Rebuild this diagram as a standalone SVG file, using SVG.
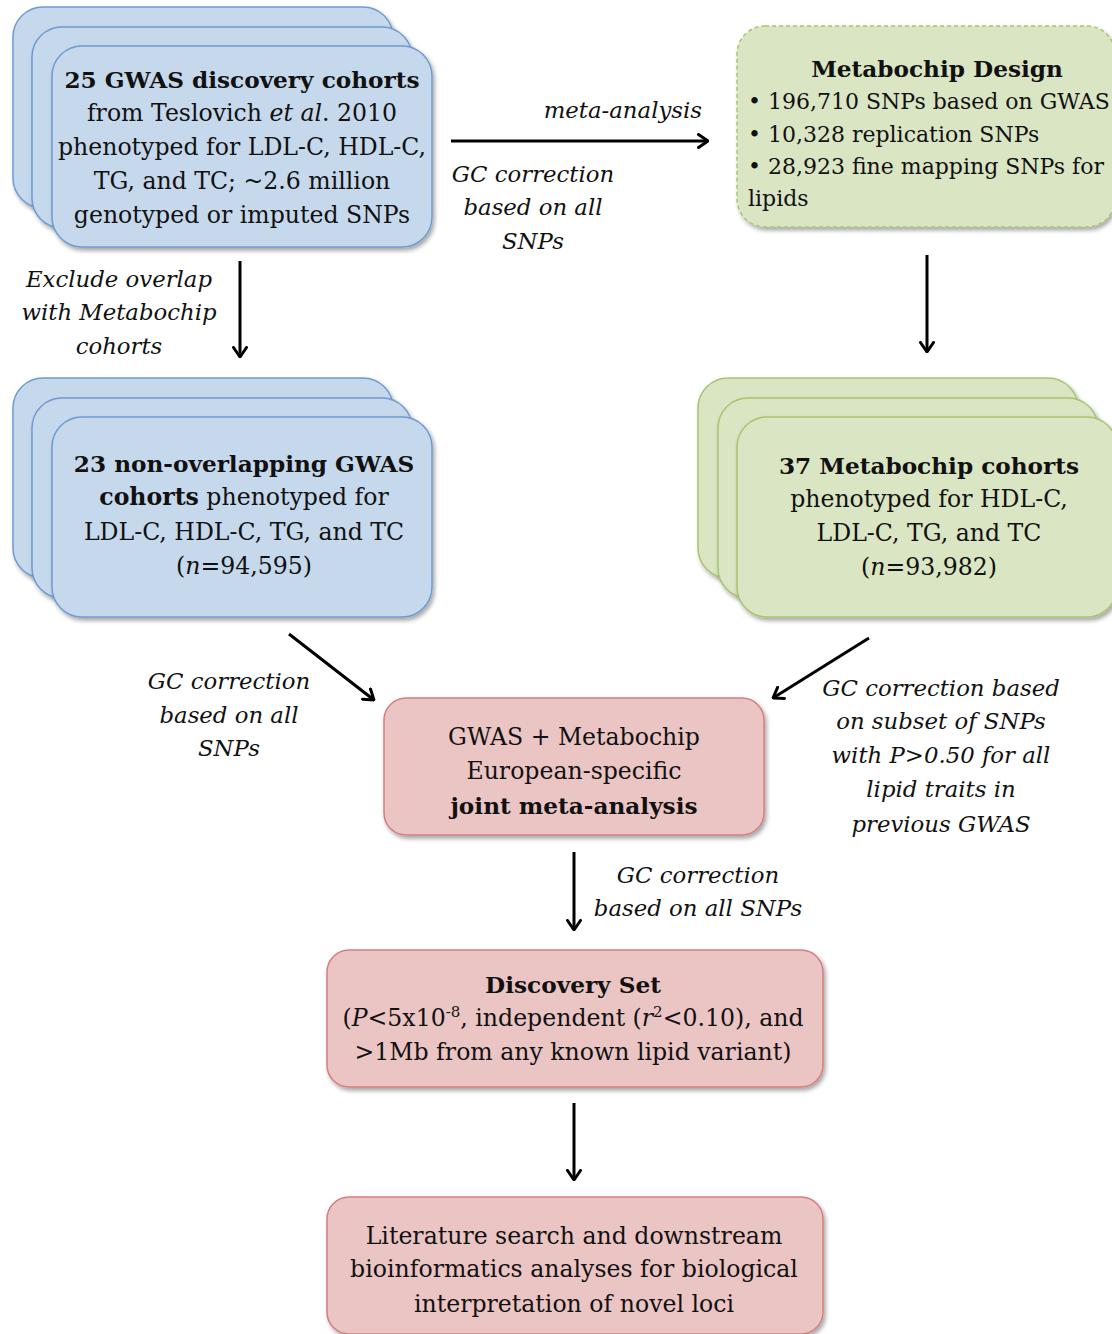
<svg xmlns="http://www.w3.org/2000/svg" width="1112" height="1334" viewBox="0 0 1112 1334">
<style>
text{font-family:"DejaVu Serif","Liberation Serif",serif;font-size:23.6px;fill:#111;}
.c{text-anchor:middle;}
.b{font-weight:bold;}
text.b{font-size:23.2px;}
.i{font-style:italic;}
text.i{font-size:22.8px;}
text.bl{font-size:22px;}
.blue{fill:#C6D8EC;stroke:#6E9CD0;stroke-width:1.5;}
.green{fill:#DAE5C4;stroke:#A9C46C;stroke-width:1.5;}
.pink{fill:#EBC4C4;stroke:#D47F7D;stroke-width:1.5;}
.arrow{stroke:#000;stroke-width:3;fill:none;marker-end:url(#ah);}
</style>
<defs>
<filter id="sh" x="-10%" y="-10%" width="130%" height="130%">
<feDropShadow dx="2" dy="3" stdDeviation="2" flood-color="#000" flood-opacity="0.35"/>
</filter>
<marker id="ah" viewBox="0 0 12 16" refX="11" refY="8" markerWidth="12" markerHeight="16" markerUnits="userSpaceOnUse" orient="auto">
<path d="M1.5,1.5 L11,8 L1.5,14.5" fill="none" stroke="#000" stroke-width="3" stroke-linecap="round" stroke-linejoin="round"/>
</marker>
</defs>
<rect width="1112" height="1334" fill="#fff"/>

<g id="gwas-discovery">
<rect class="blue" x="13" y="7" width="380" height="201" rx="30" filter="url(#sh)"/>
<rect class="blue" x="32" y="27" width="380" height="201" rx="30" filter="url(#sh)"/>
<rect class="blue" x="52" y="46" width="380" height="201" rx="30" filter="url(#sh)"/>
<text class="c b" x="242" y="88">25 GWAS discovery cohorts</text>
<text class="c" x="242" y="121">from Teslovich <tspan class="i">et al</tspan>. 2010</text>
<text class="c" x="242" y="155">phenotyped for LDL-C, HDL-C,</text>
<text class="c" x="242" y="189">TG, and TC; ~2.6 million</text>
<text class="c" x="242" y="223">genotyped or imputed SNPs</text>
</g>

<g id="metabochip-design">
<rect x="737" y="26" width="378" height="201" rx="28" fill="#DAE5C4" stroke="#A9C46C" stroke-width="1.5" stroke-dasharray="4 3" filter="url(#sh)"/>
<text class="c b" x="937" y="77">Metabochip Design</text>
<text class="bl" x="748" y="109">• 196,710 SNPs based on GWAS</text>
<text class="bl" x="748" y="142">• 10,328 replication SNPs</text>
<text class="bl" x="748" y="174">• 28,923 fine mapping SNPs for</text>
<text class="bl" x="748" y="206">lipids</text>
</g>

<g id="gwas-nonoverlap">
<rect class="blue" x="13" y="378" width="380" height="200" rx="30" filter="url(#sh)"/>
<rect class="blue" x="32" y="398" width="380" height="200" rx="30" filter="url(#sh)"/>
<rect class="blue" x="52" y="417" width="380" height="200" rx="30" filter="url(#sh)"/>
<text class="c b" x="244" y="472">23 non-overlapping GWAS</text>
<text class="c" x="244" y="505"><tspan class="b">cohorts</tspan> phenotyped for</text>
<text class="c" x="244" y="540">LDL-C, HDL-C, TG, and TC</text>
<text class="c" x="244" y="574">(<tspan class="i">n</tspan>=94,595)</text>
</g>

<g id="metabochip-cohorts">
<rect class="green" x="698" y="378" width="380" height="200" rx="30" filter="url(#sh)"/>
<rect class="green" x="718" y="398" width="380" height="200" rx="30" filter="url(#sh)"/>
<rect class="green" x="737" y="417" width="380" height="200" rx="30" filter="url(#sh)"/>
<text class="c b" x="929" y="474">37 Metabochip cohorts</text>
<text class="c" x="929" y="507">phenotyped for HDL-C,</text>
<text class="c" x="929" y="541">LDL-C, TG, and TC</text>
<text class="c" x="929" y="575">(<tspan class="i">n</tspan>=93,982)</text>
</g>

<g id="joint-meta">
<rect class="pink" x="384" y="698" width="380" height="137" rx="22" filter="url(#sh)"/>
<text class="c" x="574" y="745">GWAS + Metabochip</text>
<text class="c" x="574" y="779">European-specific</text>
<text class="c b" x="574" y="814">joint meta-analysis</text>
</g>

<g id="discovery-set">
<rect class="pink" x="327" y="950" width="496" height="137" rx="22" filter="url(#sh)"/>
<text class="c b" x="573" y="993">Discovery Set</text>
<text class="c" x="573" y="1026">(<tspan class="i">P</tspan>&lt;5x10<tspan font-size="15" baseline-shift="super">-8</tspan>, independent (<tspan class="i">r</tspan><tspan font-size="15" baseline-shift="super">2</tspan>&lt;0.10), and</text>
<text class="c" x="573" y="1060">&gt;1Mb from any known lipid variant)</text>
</g>

<g id="literature">
<rect class="pink" x="327" y="1197" width="496" height="137" rx="22" filter="url(#sh)"/>
<text class="c" x="574" y="1244">Literature search and downstream</text>
<text class="c" x="574" y="1277">bioinformatics analyses for biological</text>
<text class="c" x="574" y="1312">interpretation of novel loci</text>
</g>

<g id="connectors">
<line class="arrow" x1="451" y1="141" x2="708" y2="141"/>
<line class="arrow" x1="240" y1="261" x2="240" y2="357"/>
<line class="arrow" x1="927" y1="255" x2="927" y2="352"/>
<line class="arrow" x1="289" y1="634" x2="374" y2="700"/>
<line class="arrow" x1="869" y1="638" x2="773" y2="698"/>
<line class="arrow" x1="574" y1="852" x2="574" y2="930"/>
<line class="arrow" x1="574" y1="1103" x2="574" y2="1180"/>
</g>

<g id="labels">
<text class="i" x="702" y="118" text-anchor="end">meta-analysis</text>
<text class="c i" x="533" y="182">GC correction</text>
<text class="c i" x="533" y="215">based on all</text>
<text class="c i" x="533" y="249">SNPs</text>
<text class="c i" x="119" y="287">Exclude overlap</text>
<text class="c i" x="119" y="320">with Metabochip</text>
<text class="c i" x="119" y="354">cohorts</text>
<text class="c i" x="229" y="689">GC correction</text>
<text class="c i" x="229" y="723">based on all</text>
<text class="c i" x="229" y="756">SNPs</text>
<text class="c i" x="941" y="696">GC correction based</text>
<text class="c i" x="941" y="729">on subset of SNPs</text>
<text class="c i" x="941" y="763">with P&gt;0.50 for all</text>
<text class="c i" x="941" y="797">lipid traits in</text>
<text class="c i" x="941" y="832">previous GWAS</text>
<text class="c i" x="698" y="883">GC correction</text>
<text class="c i" x="698" y="916">based on all SNPs</text>
</g>
</svg>
